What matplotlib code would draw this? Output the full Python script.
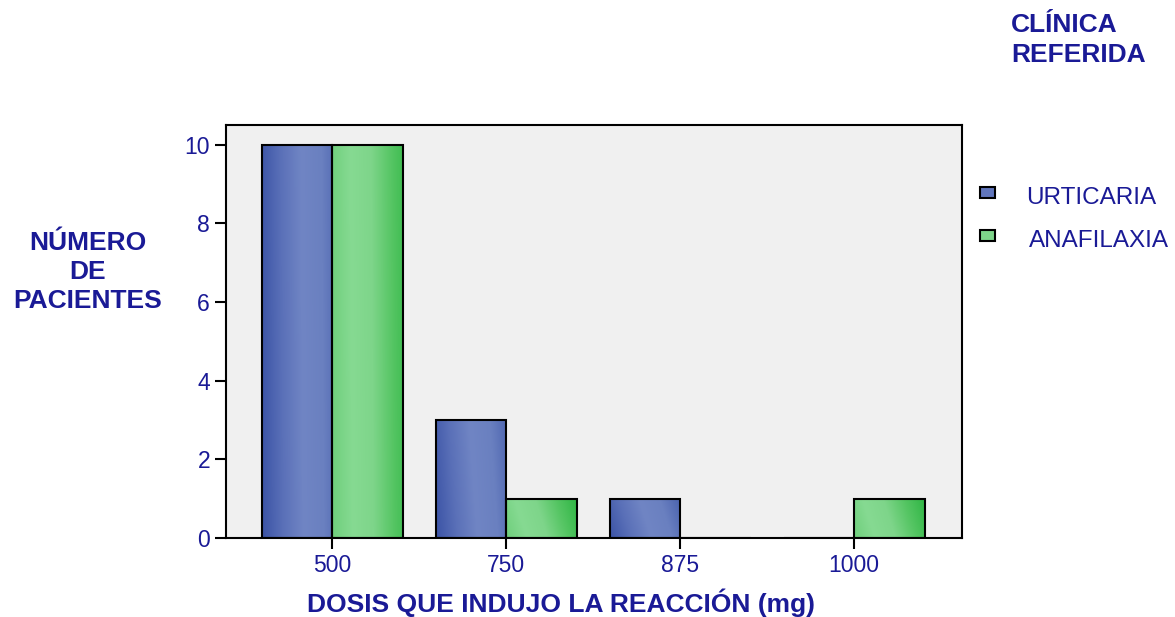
import matplotlib.pyplot as plt
import numpy as np
from matplotlib.colors import LinearSegmentedColormap
from matplotlib.patches import Rectangle

plt.rcParams['font.family'] = ['Liberation Sans', 'DejaVu Sans']

doses = ["500", "750", "875", "1000"]
urticaria = [10, 3, 1, 0]
anafilaxia = [10, 1, 0, 1]
series_names = ["URTICARIA", "ANAFILAXIA"]

text_color = "#1a1a96"
blue_cmap = LinearSegmentedColormap.from_list(
    "blue", ["#3c54a6", "#5a70b8", "#7085c4", "#6a80c0", "#4a62ae"])
green_cmap = LinearSegmentedColormap.from_list(
    "green", ["#6fcf7c", "#86da92", "#7ed58a", "#55c563", "#30b645"])


def gradient_fill(ax, bars, cmap):
    for bar in bars:
        h = bar.get_height()
        if h <= 0:
            continue
        x0, y0 = bar.get_x(), bar.get_y()
        w = bar.get_width()
        xx, yy = np.meshgrid(np.linspace(0, 1, 64), np.linspace(0, 1, 64))
        grad = np.clip(xx * 0.85 + (1 - yy) * 0.15 * min(1.0, 2.0 / h), 0, 1)
        im = ax.imshow(grad, cmap=cmap, extent=(x0, x0 + w, y0, y0 + h),
                       origin="upper", aspect="auto", zorder=2, vmin=0, vmax=1)
        im.set_clip_path(bar)


fig = plt.figure(figsize=(11.75, 6.17), dpi=100)
ax = fig.add_axes([226 / 1175, 1 - 538 / 617, (962 - 226) / 1175, (538 - 125) / 617])
ax.set_facecolor("#f0f0f0")

x = np.arange(len(doses))
width = 0.405
bars_u = ax.bar(x - width / 2, urticaria, width, facecolor="none",
                edgecolor="black", linewidth=1.5, zorder=3)
bars_a = ax.bar(x + width / 2, anafilaxia, width, facecolor="none",
                edgecolor="black", linewidth=1.5, zorder=3)
gradient_fill(ax, bars_u, blue_cmap)
gradient_fill(ax, bars_a, green_cmap)

ax.set_xlim(-0.61, 3.62)
ax.set_ylim(0, 10.5)
ax.set_xticks(x)
ax.set_xticklabels(doses)
ax.set_yticks([0, 2, 4, 6, 8, 10])
ax.tick_params(axis="both", direction="out", length=8, width=1.5,
               labelsize=16.5, labelcolor=text_color, color="black")
for spine in ax.spines.values():
    spine.set_linewidth(1.5)

fig.text(561 / 1175, 1 - 603 / 617, "DOSIS QUE INDUJO LA REACCIÓN (mg)",
         ha="center", va="center", fontsize=19, fontweight="bold",
         color=text_color)
fig.text(88 / 1175, 1 - 272 / 617, "NÚMERO\nDE\nPACIENTES", ha="center",
         va="center", fontsize=19, fontweight="bold", color=text_color,
         linespacing=1.27)

# legend
fig.text(1011 / 1175, 1 - 40 / 617, "CLÍNICA\nREFERIDA", ha="left",
         va="center", fontsize=19, fontweight="bold", color=text_color,
         linespacing=1.27)
legend_colors = ["#6176bc", "#7ed58a"]
for i, (name, col) in enumerate(zip(series_names, legend_colors)):
    yc = 1 - (194 + i * 43) / 617
    fig.patches.append(Rectangle((980 / 1175, yc - 4 / 617), 15 / 1175, 11 / 617,
                                 transform=fig.transFigure, facecolor=col,
                                 edgecolor="black", linewidth=1.5))
    fig.text((1026 + i * 3) / 1175, yc - 4 / 617, name, ha="left", va="center",
             fontsize=17.5, color=text_color)

fig.savefig("out.png", dpi=100)
